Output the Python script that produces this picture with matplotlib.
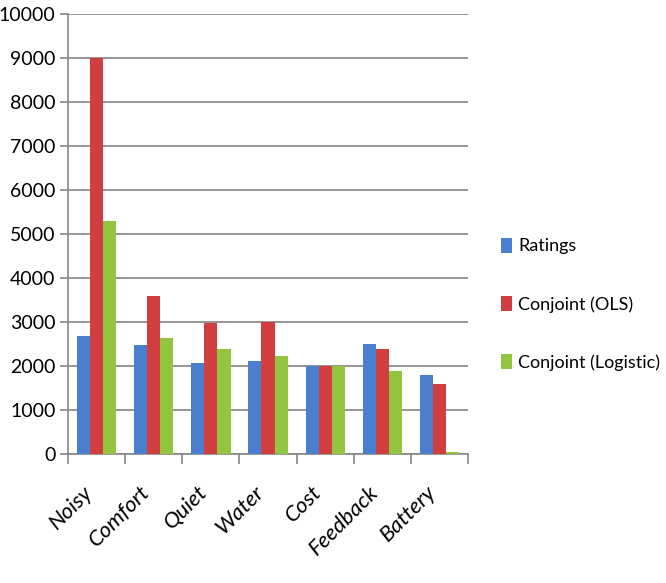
import matplotlib.pyplot as plt
import matplotlib.transforms as mtransforms
import numpy as np

categories = ['Noisy', 'Comfort', 'Quiet', 'Water', 'Cost', 'Feedback', 'Battery']
ratings = [2680, 2480, 2080, 2120, 2000, 2500, 1800]
conjoint_ols = [9000, 3590, 2990, 3000, 2000, 2400, 1600]
conjoint_logistic = [5300, 2630, 2380, 2230, 2000, 1890, 40]
series_names = ['Ratings', 'Conjoint (OLS)', 'Conjoint (Logistic)']
colors = ['#4a7fd0', '#d03e3f', '#93c540']

plt.rcParams['font.family'] = ['Lato', 'DejaVu Sans']

fig = plt.figure(figsize=(6.66, 5.83), dpi=100)
ax = fig.add_axes([0.102, 0.221, 0.601, 0.755])

x = np.arange(len(categories))
w = 0.23
for i, (vals, name, c) in enumerate(zip([ratings, conjoint_ols, conjoint_logistic], series_names, colors)):
    ax.bar(x + (i - 1) * w, vals, width=w, color=c, label=name, zorder=3)

ax.set_xlim(-0.5, len(categories) - 0.5)
ax.set_ylim(0, 10000)
ax.set_yticks(range(0, 10001, 1000))
ax.tick_params(axis='y', labelsize=14, length=6, color='#888888', width=1.2, pad=3)
ax.yaxis.grid(True, color='#8c8c8c', linewidth=1.3, zorder=0)

ax.set_xticks(x)
ax.set_xticklabels(categories, rotation=45, ha='right', rotation_mode='anchor',
                   fontsize=16, style='italic')
ax.tick_params(axis='x', which='major', length=0, pad=20)
shift = mtransforms.ScaledTranslation(-10 / 72, 0, fig.dpi_scale_trans)
for lab in ax.get_xticklabels():
    lab.set_transform(lab.get_transform() + shift)
ax.set_xticks(np.arange(-0.5, len(categories)), minor=True)
ax.tick_params(axis='x', which='minor', length=7, color='#888888', width=1.2)

for s in ['top', 'right']:
    ax.spines[s].set_visible(False)
for s in ['left', 'bottom']:
    ax.spines[s].set_color('#888888')
    ax.spines[s].set_linewidth(1.2)

fig.legend(loc='center left', bbox_to_anchor=(0.728, 0.478), frameon=False,
           fontsize=13, labelspacing=2.3, handlelength=0.6, handleheight=0.9,
           handletextpad=0.35)

fig.savefig('out.png', dpi=100)
